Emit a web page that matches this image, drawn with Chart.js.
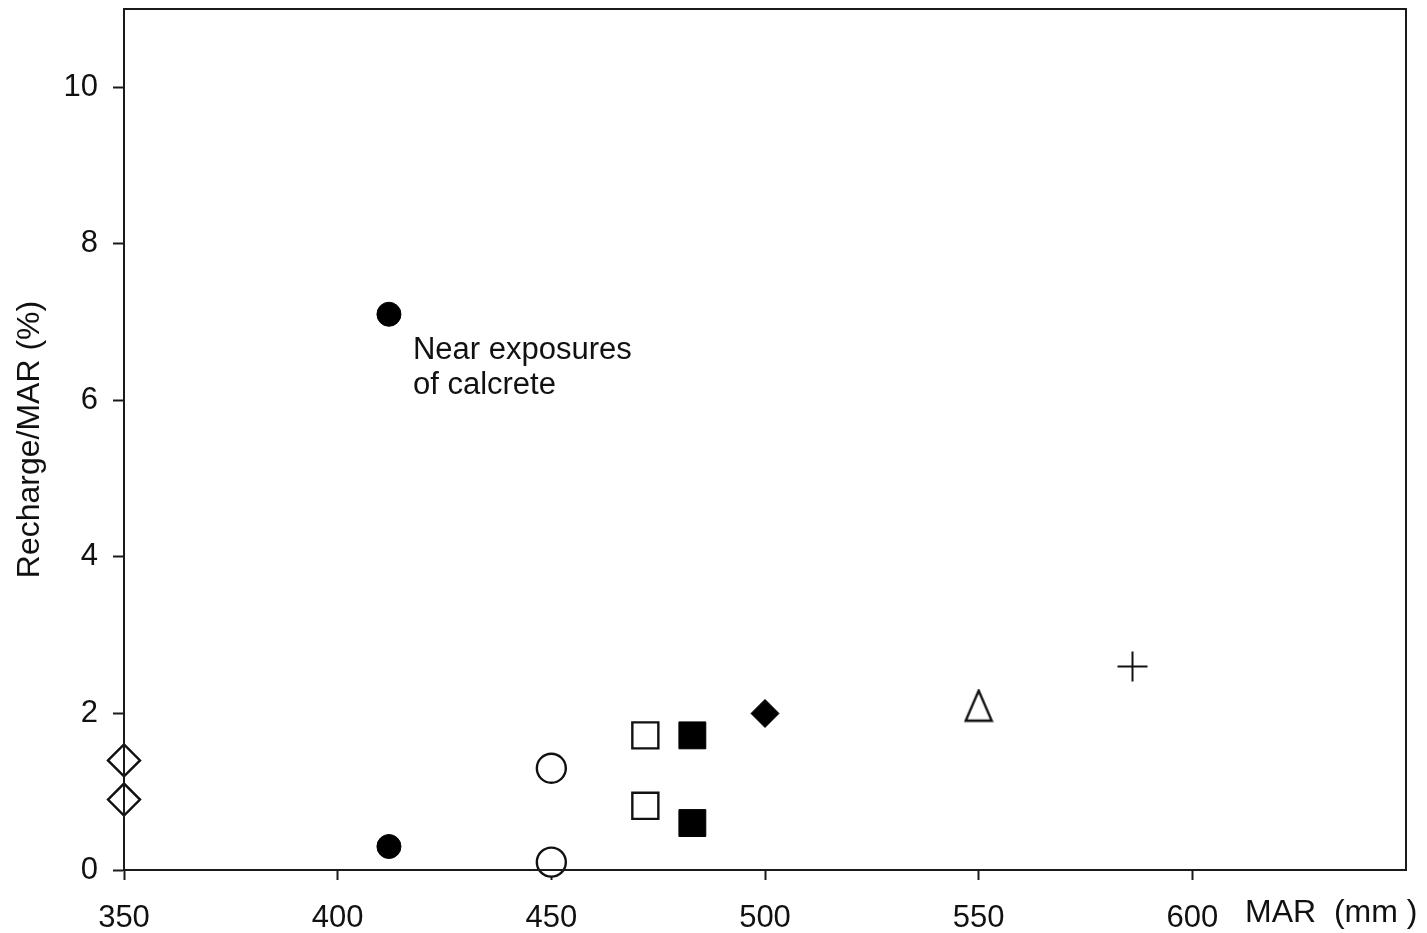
<!DOCTYPE html>
<html>
<head>
<meta charset="utf-8">
<script src="https://cdn.jsdelivr.net/npm/chart.js@4.4.1/dist/chart.umd.min.js"></script>
<style>
  html, body { margin: 0; padding: 0; background: #fff; }
  #wrap { width: 1427px; height: 933px; }
</style>
</head>
<body>
<div id="wrap"><canvas id="rechargeChart"></canvas></div>
<script>
// values: MAR (mm) vs recharge/MAR (%)
var diamondOpenX = [350, 350];
var diamondOpenY = [1.4, 0.9];
var circleFilledX = [412, 412];
var circleFilledY = [7.1, 0.3];
var circleOpenX = [450, 450];
var circleOpenY = [1.3, 0.1];
var squareOpenX = [472, 472];
var squareOpenY = [1.72, 0.82];
var squareFilledX = [483, 483];
var squareFilledY = [1.72, 0.6];
var diamondFilledX = [500];
var diamondFilledY = [2.0];
var triangleOpenX = [550];
var triangleOpenY = [2.1];
var plusX = [586];
var plusY = [2.6];

var xTicks = [350, 400, 450, 500, 550, 600];
var yTicks = [0, 2, 4, 6, 8, 10];
var annotationLines = ['Near exposures', 'of calcrete'];

var ink = '#111';
var fontFamily = '"Liberation Sans", Arial, sans-serif';

function pts(xs, ys) {
    return xs.map(function (x, i) { return { x: x, y: ys[i] }; });
}

// open triangle drawn on a small canvas, used as point style
var tri = document.createElement('canvas');
tri.width = 30;
tri.height = 34;
var tctx = tri.getContext('2d');
tctx.strokeStyle = ink;
tctx.lineWidth = 2.4;
tctx.beginPath();
tctx.moveTo(15, 2);
tctx.lineTo(28, 32);
tctx.lineTo(2, 32);
tctx.closePath();
tctx.stroke();

var framePlugin = {
    id: 'frame',
    afterDraw: function (chart) {
        var ctx = chart.ctx;
        var a = chart.chartArea;
        var xs = chart.scales.x;
        var ys = chart.scales.y;
        ctx.save();
        ctx.strokeStyle = '#1a1a1a';
        ctx.lineWidth = 2;
        ctx.strokeRect(a.left, a.top, a.right - a.left, a.bottom - a.top);

        ctx.fillStyle = ink;
        ctx.textBaseline = 'middle';
        ctx.textAlign = 'left';
        // note next to the upper filled circle
        ctx.font = '31px ' + fontFamily;
        var ax = xs.getPixelForValue(circleFilledX[0]) + 24;
        var ay = ys.getPixelForValue(circleFilledY[0]) + 36;
        annotationLines.forEach(function (t, i) {
            ctx.fillText(t, ax, ay + i * 35);
        });
        // x axis name sits on the tick label row
        ctx.font = '32px ' + fontFamily;
        ctx.fillText('MAR  (mm )', 1245, 913);
        ctx.restore();
    }
};

var baseSet = { showLine: false, clip: false };

var ctx = document.getElementById('rechargeChart').getContext('2d');
var rechargeChart = new Chart(ctx, {
    type: 'scatter',
    data: {
        datasets: [
            Object.assign({
                label: 'open diamond',
                data: pts(diamondOpenX, diamondOpenY),
                pointStyle: 'rectRot', pointRadius: 16,
                backgroundColor: '#fff', borderColor: ink, borderWidth: 2.4
            }, baseSet),
            Object.assign({
                label: 'filled circle',
                data: pts(circleFilledX, circleFilledY),
                pointStyle: 'circle', pointRadius: 12,
                backgroundColor: '#000', borderColor: '#000', borderWidth: 1
            }, baseSet),
            Object.assign({
                label: 'open circle',
                data: pts(circleOpenX, circleOpenY),
                pointStyle: 'circle', pointRadius: 14.5,
                backgroundColor: '#fff', borderColor: ink, borderWidth: 2.4
            }, baseSet),
            Object.assign({
                label: 'open square',
                data: pts(squareOpenX, squareOpenY),
                pointStyle: 'rect', pointRadius: 18.4,
                backgroundColor: '#fff', borderColor: ink, borderWidth: 2.4
            }, baseSet),
            Object.assign({
                label: 'filled square',
                data: pts(squareFilledX, squareFilledY),
                pointStyle: 'rect', pointRadius: 19,
                backgroundColor: '#000', borderColor: '#000', borderWidth: 1
            }, baseSet),
            Object.assign({
                label: 'filled diamond',
                data: pts(diamondFilledX, diamondFilledY),
                pointStyle: 'rectRot', pointRadius: 14,
                backgroundColor: '#000', borderColor: '#000', borderWidth: 1
            }, baseSet),
            Object.assign({
                label: 'open triangle',
                data: pts(triangleOpenX, triangleOpenY),
                pointStyle: tri
            }, baseSet),
            Object.assign({
                label: 'plus',
                data: pts(plusX, plusY),
                pointStyle: 'cross', pointRadius: 15,
                backgroundColor: ink, borderColor: ink, borderWidth: 2
            }, baseSet)
        ]
    },
    options: {
        responsive: true,
        maintainAspectRatio: false,
        animation: false,
        layout: {
            autoPadding: false,
            padding: { top: 9, right: 21, left: 0, bottom: 0 }
        },
        plugins: {
            legend: { display: false },
            tooltip: { enabled: false }
        },
        scales: {
            x: {
                type: 'linear',
                min: 350,
                max: 650,
                afterBuildTicks: function (axis) {
                    axis.ticks = xTicks.map(function (v) { return { value: v }; });
                },
                afterFit: function (axis) { axis.height = 63; },
                grid: {
                    drawOnChartArea: false,
                    drawTicks: true,
                    tickLength: 10,
                    tickWidth: 2,
                    tickColor: '#1a1a1a'
                },
                border: { display: true, color: '#1a1a1a', width: 2 },
                ticks: {
                    color: ink,
                    padding: 20,
                    maxRotation: 0,
                    autoSkip: false,
                    font: { family: fontFamily, size: 31 }
                }
            },
            y: {
                type: 'linear',
                min: 0,
                max: 11,
                afterBuildTicks: function (axis) {
                    axis.ticks = yTicks.map(function (v) { return { value: v }; });
                },
                afterFit: function (axis) {
                    axis.width = 124;
                    axis.paddingTop = 0;
                    axis.paddingBottom = 0;
                },
                grid: {
                    drawOnChartArea: false,
                    drawTicks: true,
                    tickLength: 11,
                    tickWidth: 2,
                    tickColor: '#1a1a1a'
                },
                border: { display: true, color: '#1a1a1a', width: 2 },
                ticks: {
                    color: ink,
                    padding: 15,
                    font: { family: fontFamily, size: 31 }
                },
                title: {
                    display: true,
                    text: 'Recharge/MAR (%)',
                    color: ink,
                    padding: { top: 11, bottom: 0 },
                    font: { family: fontFamily, size: 32 }
                }
            }
        }
    },
    plugins: [framePlugin]
});
</script>
</body>
</html>
